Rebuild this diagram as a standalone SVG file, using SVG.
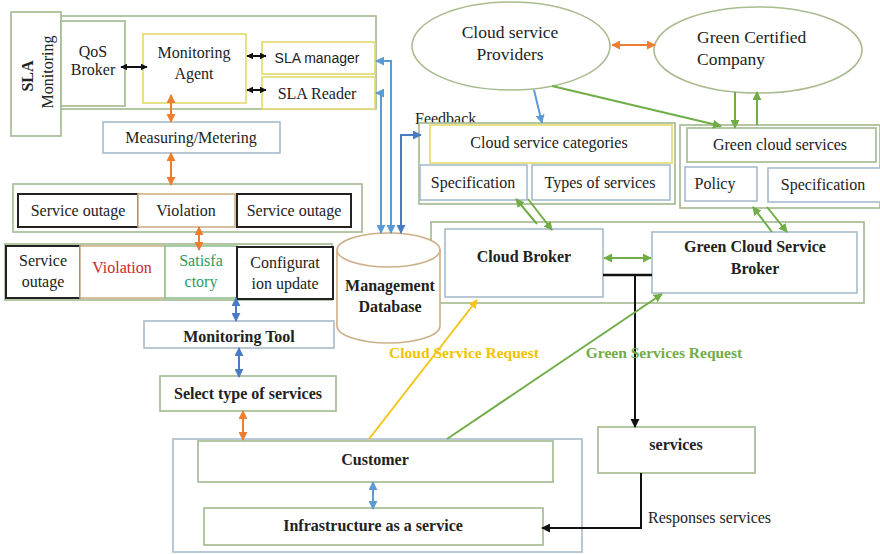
<svg xmlns="http://www.w3.org/2000/svg" width="880" height="554" viewBox="0 0 880 554">
<style>
text{font-family:"Liberation Serif","Times New Roman",serif;font-size:16px;fill:#222;text-anchor:middle}
.b{font-weight:bold}
.e{font-size:17.5px}
.sans{font-family:"Liberation Sans",Arial,sans-serif;font-size:14px}
.g{fill:none;stroke:#a3b88f;stroke-width:1.6}
.gw{fill:#fff;stroke:#a3b88f;stroke-width:1.6}
.bl{fill:#fff;stroke:#a7bccb;stroke-width:1.6}
.y{fill:#fff;stroke:#e3da6e;stroke-width:1.6}
.k{fill:#fff;stroke:#222;stroke-width:2}
.t{fill:#fff;stroke:#cdb088;stroke-width:1.6}
.gr{fill:#fff;stroke:#8fc28f;stroke-width:1.6}
.c{fill:none;stroke-width:2}
</style>
<defs>
<marker id="mk" viewBox="0 0 10 10" refX="9" refY="5" markerWidth="9" markerHeight="9" markerUnits="userSpaceOnUse" orient="auto-start-reverse"><path d="M0,0L10,5L0,10z" fill="#111"/></marker>
<marker id="mks" viewBox="0 0 10 10" refX="9" refY="5" markerWidth="7" markerHeight="7" markerUnits="userSpaceOnUse" orient="auto-start-reverse"><path d="M0,0L10,5L0,10z" fill="#111"/></marker>
<marker id="mo" viewBox="0 0 10 10" refX="9" refY="5" markerWidth="9" markerHeight="9" markerUnits="userSpaceOnUse" orient="auto-start-reverse"><path d="M0,0L10,5L0,10z" fill="#ed7d31"/></marker>
<marker id="mb" viewBox="0 0 10 10" refX="9" refY="5" markerWidth="9" markerHeight="9" markerUnits="userSpaceOnUse" orient="auto-start-reverse"><path d="M0,0L10,5L0,10z" fill="#4a7cc4"/></marker>
<marker id="mb2" viewBox="0 0 10 10" refX="9" refY="5" markerWidth="9" markerHeight="9" markerUnits="userSpaceOnUse" orient="auto-start-reverse"><path d="M0,0L10,5L0,10z" fill="#5b9bd5"/></marker>
<marker id="mg" viewBox="0 0 10 10" refX="9" refY="5" markerWidth="9" markerHeight="9" markerUnits="userSpaceOnUse" orient="auto-start-reverse"><path d="M0,0L10,5L0,10z" fill="#70ad47"/></marker>
<marker id="my" viewBox="0 0 10 10" refX="9" refY="5" markerWidth="9" markerHeight="9" markerUnits="userSpaceOnUse" orient="auto-start-reverse"><path d="M0,0L10,5L0,10z" fill="#f5c518"/></marker>
</defs>

<!-- containers -->
<g id="sla-container"><rect class="g" x="61" y="16" width="315" height="93"/></g>
<g id="sla-monitoring"><rect class="gw" x="11" y="12" width="50" height="124"/>
<text class="b" transform="translate(33,76) rotate(-90)">SLA</text>
<text transform="translate(53,72) rotate(-90)">Monitoring</text></g>
<g id="qos-broker"><rect class="gw" x="61" y="21" width="64" height="85"/><text x="93" y="57">QoS</text><text x="93" y="75">Broker</text></g>
<g id="monitoring-agent"><rect class="y" x="143" y="34" width="103" height="69"/><text x="194" y="58">Monitoring</text><text x="194" y="79">Agent</text></g>
<g id="sla-manager"><rect class="y" x="262" y="42" width="113" height="32"/><text class="sans" x="317" y="63">SLA manager</text></g>
<g id="sla-reader"><rect class="y" x="262" y="77" width="113" height="32"/><text x="317" y="99">SLA Reader</text></g>
<g id="measuring"><rect class="bl" x="103" y="122" width="177" height="31"/><text x="191" y="143">Measuring/Metering</text></g>

<g id="row1"><rect class="g" x="13" y="184" width="349" height="48"/></g>
<g id="r1-outage1"><rect class="k" x="18" y="194" width="120" height="33"/><text x="78" y="216">Service outage</text></g>
<g id="r1-violation"><rect class="t" x="138" y="194" width="97" height="33"/><text x="186" y="216">Violation</text></g>
<g id="r1-outage2"><rect class="k" x="237" y="194" width="114" height="33"/><text x="294" y="216">Service outage</text></g>

<g id="row2"><rect class="g" x="5" y="244" width="327" height="56"/></g>
<g id="r2-outage"><rect class="k" x="6" y="246" width="74" height="52"/><text x="43" y="266">Service</text><text x="43" y="287">outage</text></g>
<g id="r2-violation"><rect class="t" x="80" y="246" width="85" height="52"/><text x="122" y="273" style="fill:#d0262e">Violation</text></g>
<g id="r2-satisfactory"><rect class="gr" x="165" y="246" width="72" height="52"/><text x="201" y="266" style="fill:#2e9a5e">Satisfa</text><text x="201" y="287" style="fill:#2e9a5e">ctory</text></g>
<g id="r2-config"><rect class="k" x="237" y="247" width="96" height="52"/><text x="285" y="268">Configurat</text><text x="285" y="289">ion update</text></g>

<g id="monitoring-tool"><rect class="bl" x="144" y="321" width="190" height="27"/><text class="b" x="239" y="342">Monitoring Tool</text></g>
<g id="select-type"><rect class="gw" x="160" y="376" width="176" height="35"/><text class="b" x="248" y="399">Select type of services</text></g>

<g id="customer-area"><rect class="bl" x="173" y="439" width="409" height="113" style="fill:none"/></g>
<g id="customer"><rect class="gw" x="198" y="441" width="355" height="41"/><text class="b" x="375" y="465">Customer</text></g>
<g id="iaas"><rect class="gw" x="204" y="508" width="339" height="37"/><text class="b" x="373" y="531">Infrastructure as a service</text></g>

<g id="csp"><ellipse cx="511" cy="46" rx="99" ry="44" fill="#fff" stroke="#a9bb8f" stroke-width="1.6"/><text class="e" x="510" y="38">Cloud service</text><text class="e" x="510" y="60">Providers</text></g>
<g id="gcc"><ellipse cx="758" cy="50" rx="104" ry="43" fill="#fff" stroke="#a9bb8f" stroke-width="1.6"/><text class="e" x="697" y="43" style="text-anchor:start">Green Certified</text><text class="e" x="697" y="65" style="text-anchor:start">Company</text></g>

<text x="415" y="124" style="text-anchor:start">Feedback</text>
<g id="categories-area"><rect class="gw" x="419" y="123" width="256" height="81"/></g>
<g id="categories"><rect class="y" x="430" y="125" width="242" height="38"/><text x="549" y="148">Cloud service categories</text></g>
<g id="spec1"><rect class="bl" x="420" y="165" width="107" height="35"/><text x="473" y="188">Specification</text></g>
<g id="types"><rect class="bl" x="532" y="165" width="138" height="35"/><text x="600" y="188">Types of services</text></g>

<g id="green-area"><rect class="gw" x="680" y="125" width="200" height="83"/></g>
<g id="green-services"><rect class="gw" x="687" y="128" width="189" height="34"/><text x="780" y="150">Green cloud services</text></g>
<g id="policy"><rect class="bl" x="685" y="167" width="72" height="34"/><text x="715" y="189">Policy</text></g>
<g id="spec2"><rect class="bl" x="768" y="168" width="115" height="34"/><text x="823" y="190">Specification</text></g>

<g id="broker-area"><rect class="g" x="431" y="222" width="433" height="81"/></g>
<g id="cloud-broker"><rect class="bl" x="445" y="229" width="158" height="68"/><text class="b" x="524" y="262">Cloud Broker</text></g>
<g id="green-broker"><rect class="bl" x="652" y="232" width="205" height="61"/><text class="b" x="755" y="252">Green Cloud Service</text><text class="b" x="755" y="274">Broker</text></g>

<g id="database">
<path d="M337,250 L337,326 A51.5,17 0 0 0 440,326 L440,250" fill="#fff" stroke="#cdb088" stroke-width="1.6"/>
<ellipse cx="388.5" cy="250" rx="51.5" ry="17" fill="#fff" stroke="#cdb088" stroke-width="1.6"/>
<text class="b" x="390" y="291">Management</text><text class="b" x="390" y="312">Database</text></g>

<g id="services"><rect class="gw" x="598" y="427" width="157" height="46"/><text class="b" x="676" y="450">services</text></g>

<!-- connectors -->
<g id="connectors">
<line class="c" x1="121" y1="67" x2="147" y2="67" stroke="#111" marker-start="url(#mks)" marker-end="url(#mks)"/>
<line class="c" x1="247" y1="56" x2="266" y2="56" stroke="#111" marker-start="url(#mks)" marker-end="url(#mks)"/>
<line class="c" x1="247" y1="90" x2="266" y2="90" stroke="#111" marker-start="url(#mks)" marker-end="url(#mks)"/>
<line class="c" x1="171" y1="95" x2="171" y2="122" stroke="#ed7d31" marker-start="url(#mo)" marker-end="url(#mo)"/>
<line class="c" x1="171" y1="153" x2="171" y2="185" stroke="#ed7d31" marker-start="url(#mo)" marker-end="url(#mo)"/>
<line class="c" x1="199" y1="227" x2="199" y2="250" stroke="#ed7d31" marker-start="url(#mo)" marker-end="url(#mo)"/>
<line class="c" x1="236" y1="298" x2="236" y2="321" stroke="#4a7cc4" marker-start="url(#mb)" marker-end="url(#mb)"/>
<line class="c" x1="239" y1="348" x2="239" y2="377" stroke="#4a7cc4" marker-start="url(#mb)" marker-end="url(#mb)"/>
<line class="c" x1="243" y1="411" x2="243" y2="440" stroke="#ed7d31" marker-start="url(#mo)" marker-end="url(#mo)"/>
<line class="c" x1="373" y1="482" x2="373" y2="509" stroke="#5b9bd5" marker-start="url(#mb2)" marker-end="url(#mb2)"/>
<polyline class="c" points="376,61 391,61 391,233" stroke="#5b9bd5" marker-start="url(#mb2)" marker-end="url(#mb2)"/>
<polyline class="c" points="376,93 381,93 381,233" stroke="#5b9bd5" marker-start="url(#mb2)" marker-end="url(#mb2)"/>
<polyline class="c" points="401,233 401,135 421,135" stroke="#4a7cc4" marker-start="url(#mb)" marker-end="url(#mb)"/>
<line class="c" x1="612" y1="45" x2="655" y2="45" stroke="#ed7d31" marker-start="url(#mo)" marker-end="url(#mo)"/>
<line class="c" x1="534" y1="90" x2="542" y2="123" stroke="#5b9bd5" marker-end="url(#mb2)"/>
<line class="c" x1="552" y1="86" x2="721" y2="126" stroke="#70ad47" marker-end="url(#mg)"/>
<line class="c" x1="735" y1="92" x2="735" y2="128" stroke="#70ad47" marker-end="url(#mg)"/>
<line class="c" x1="757" y1="125" x2="757" y2="92" stroke="#70ad47" marker-end="url(#mg)"/>
<line class="c" x1="537" y1="224" x2="516" y2="199" stroke="#70ad47" marker-end="url(#mg)"/>
<line class="c" x1="528" y1="199" x2="552" y2="230" stroke="#70ad47" marker-end="url(#mg)"/>
<line class="c" x1="772" y1="232" x2="753" y2="207" stroke="#70ad47" marker-end="url(#mg)"/>
<line class="c" x1="767" y1="207" x2="787" y2="232" stroke="#70ad47" marker-end="url(#mg)"/>
<line class="c" x1="604" y1="258" x2="651" y2="258" stroke="#70ad47" marker-start="url(#mg)" marker-end="url(#mg)"/>
<line x1="603" y1="275" x2="652" y2="275" stroke="#111" stroke-width="2.5"/>
<line x1="635" y1="275" x2="635" y2="427" stroke="#111" stroke-width="2" marker-end="url(#mk)"/>
<polyline fill="none" points="641,473 641,528 542,528" stroke="#111" stroke-width="2" marker-end="url(#mk)"/>
<line x1="369" y1="439" x2="477" y2="300" stroke="#f5c518" stroke-width="2" marker-end="url(#my)"/>
<line x1="447" y1="439" x2="662" y2="294" stroke="#70ad47" stroke-width="2" marker-end="url(#mg)"/>
<text class="b" x="464" y="358" style="fill:#f2c200;font-size:15.5px">Cloud Service Request</text>
<text class="b" x="664" y="358" style="fill:#70ad47;font-size:15.5px">Green Services Request</text>
<text x="648" y="523" style="text-anchor:start">Responses services</text>
</g>
</svg>
